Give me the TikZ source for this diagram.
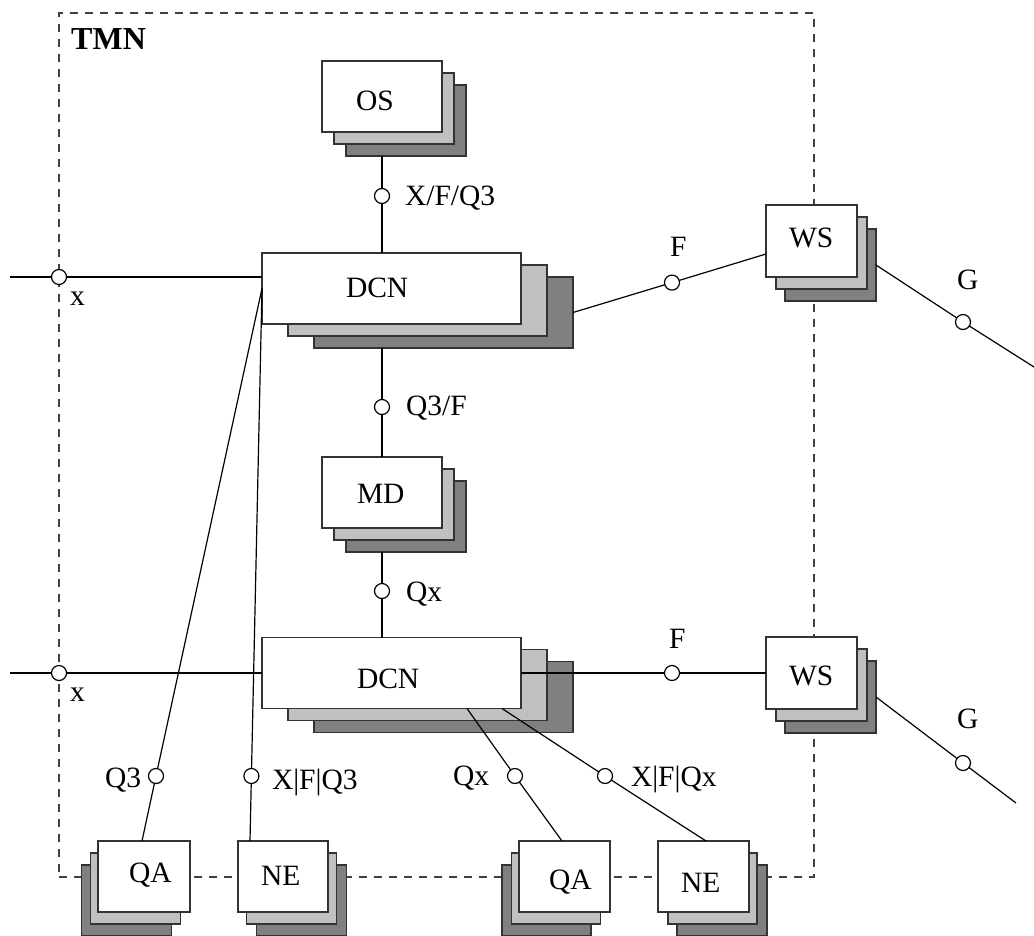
\documentclass[tikz,border=0pt]{standalone}
\usepackage{fontspec}
\setmainfont{Liberation Serif}
\usetikzlibrary{calc}
\definecolor{lightgr}{HTML}{C0C0C0}
\definecolor{darkgr}{HTML}{808080}
\begin{document}
\begin{tikzpicture}[x=1pt,y=-1pt,
  stk/.style={draw=black!80, line width=1.2pt, inner sep=0pt, outer sep=0pt, fill=white},
  sh1/.style={stk, fill=lightgr},
  sh2/.style={stk, fill=darkgr},
  wire/.style={draw=black, line width=1.2pt},
  port/.style={circle, draw=black, line width=1.2pt, fill=white, minimum size=15pt, inner sep=0pt, outer sep=0pt},
  lbl/.style={font=\fontsize{29.5}{31}\selectfont, inner sep=0pt, outer sep=0pt, anchor=base west},
  tmnline/.style={draw=black!75, line width=1.2pt, dash pattern=on 8pt off 7pt}]
\useasboundingbox (0,0) rectangle (1034,935);

% TMN boundary
\node[tmnline, minimum width=755pt, minimum height=864pt, inner sep=0pt, outer sep=0pt] (tmn) at (436.5,445) {};
\node[font=\fontsize{32}{34}\selectfont\bfseries, inner sep=0pt, anchor=base west] (tmnlbl) at (71,49) {TMN};

% OS
\node[sh2, minimum width=120pt, minimum height=71pt] (os3) at (406,120.5) {};
\node[sh1, minimum width=120pt, minimum height=71pt] (os2) at (394,108.5) {};
\node[stk, minimum width=120pt, minimum height=71pt] (os) at (382,96.5) {};
\node[lbl] (ost) at (356,110) {OS};

% DCN upper
\node[sh2, minimum width=259pt, minimum height=71pt] (dcn13) at (443.5,312.5) {};
\node[sh1, minimum width=259pt, minimum height=71pt] (dcn12) at (417.5,300.5) {};
\node[stk, minimum width=259pt, minimum height=71pt] (dcn1) at (391.5,288.5) {};
\node[lbl] (dcn1t) at (346,297) {DCN};

% MD
\node[sh2, minimum width=120pt, minimum height=71pt] (md3) at (406,516.5) {};
\node[sh1, minimum width=120pt, minimum height=71pt] (md2) at (394,504.5) {};
\node[stk, minimum width=120pt, minimum height=71pt] (md) at (382,492.5) {};
\node[lbl] (mdt) at (357,503) {MD};

% DCN lower
\node[sh2, minimum width=259pt, minimum height=71pt] (dcn23) at (443.5,697) {};
\node[sh1, minimum width=259pt, minimum height=71pt] (dcn22) at (417.5,685) {};
\node[stk, minimum width=259pt, minimum height=71pt] (dcn2) at (391.5,673) {};
\node[lbl] (dcn2t) at (357,688) {DCN};

% WS upper
\node[sh2, minimum width=91pt, minimum height=72pt] (ws13) at (830.5,265) {};
\node[sh1, minimum width=91pt, minimum height=72pt] (ws12) at (821.5,253) {};
\node[stk, minimum width=91pt, minimum height=72pt] (ws1) at (811.5,241) {};
\node[lbl] (ws1t) at (789,247) {WS};

% WS lower
\node[sh2, minimum width=91pt, minimum height=72pt] (ws23) at (830.5,697) {};
\node[sh1, minimum width=91pt, minimum height=72pt] (ws22) at (821.5,685) {};
\node[stk, minimum width=91pt, minimum height=72pt] (ws2) at (811.5,673) {};
\node[lbl] (ws2t) at (789,685) {WS};

% QA left
\node[sh2, minimum width=90pt, minimum height=71pt] (qa13) at (126.5,900.5) {};
\node[sh1, minimum width=90pt, minimum height=71pt] (qa12) at (135.5,888.5) {};
\node[stk, minimum width=92pt, minimum height=71pt] (qa1) at (144,876.5) {};
\node[lbl] (qa1t) at (129,882) {QA};

% NE left
\node[sh2, minimum width=90pt, minimum height=71pt] (ne13) at (301.5,900.5) {};
\node[sh1, minimum width=90pt, minimum height=71pt] (ne12) at (291.5,888.5) {};
\node[stk, minimum width=90pt, minimum height=71pt] (ne1) at (283,876.5) {};
\node[lbl] (ne1t) at (261,885) {NE};

% QA right
\node[sh2, minimum width=89pt, minimum height=71pt] (qa23) at (546.5,900.5) {};
\node[sh1, minimum width=89pt, minimum height=71pt] (qa22) at (556,888.5) {};
\node[stk, minimum width=91pt, minimum height=71pt] (qa2) at (564.5,876.5) {};
\node[lbl] (qa2t) at (549,889) {QA};

% NE right
\node[sh2, minimum width=90pt, minimum height=71pt] (ne23) at (722,900.5) {};
\node[sh1, minimum width=89pt, minimum height=71pt] (ne22) at (712.5,888.5) {};
\node[stk, minimum width=91pt, minimum height=71pt] (ne2) at (703.5,876.5) {};
\node[lbl] (ne2t) at (681,892) {NE};

% ports
\node[port] (pos) at (382,196) {};
\node[port] (pmd1) at (382,407) {};
\node[port] (pmd2) at (382,591) {};
\node[port] (px1) at (59,277) {};
\node[port] (px2) at (59,673) {};
\node[port] (pf1) at (672,282.6) {};
\node[port] (pf2) at (672,673) {};
\node[port] (pg1) at (963,322) {};
\node[port] (pg2) at (963,763) {};
\node[port] (pq3) at (156,776) {};
\node[port] (pxf3) at (251.4,776) {};
\node[port] (pqx) at (515,776) {};
\node[port] (pxfx) at (605,776) {};

% free ends
\coordinate (l1) at (10,277);
\coordinate (l2) at (10,673);
\coordinate (g1) at (1034,367);
\coordinate (g2) at (1016,803);

% connectors
\draw[wire] (os.south |- os3.south) -- (pos) -- (dcn1.north -| os);
\draw[wire] (md |- dcn13.south) -- (pmd1) -- (md.north);
\draw[wire] (md |- md3.south) -- (pmd2) -- (md |- dcn2.north);
\draw[wire] (l1) -- (px1) -- (l1 -| dcn1.west);
\draw[wire] (l2) -- (px2) -- (dcn2.west);
\draw[wire] (dcn13.east) -- (pf1) -- ([yshift=-13pt]ws1.west);
\draw[wire] (dcn2.east) -- (pf2) -- (ws2.west);
\draw[wire] (ws13.east) -- (pg1) -- (g1);
\draw[wire] (ws23.east) -- (pg2) -- (g2);
\draw[wire] (dcn1.west) -- (pq3) -- ([xshift=-2pt]qa1.north);
\draw[wire] (dcn1.west) -- (pxf3) -- ([xshift=-33pt]ne1.north);
\draw[wire] ([xshift=75.5pt]dcn2.south) -- (pqx) -- ([xshift=-2.5pt]qa2.north);
\draw[wire] ([xshift=110.5pt]dcn2.south) -- (pxfx) -- ([xshift=2.5pt]ne2.north);

% labels
\node[lbl] (lxfq3) at (405,205) {X/F/Q3};
\node[lbl] (lq3f) at (406,415.5) {Q3/F};
\node[lbl] (lqx1) at (406,601.5) {Qx};
\node[lbl] (lx1) at (70,305) {x};
\node[lbl] (lx2) at (70,701) {x};
\node[lbl] (lf1) at (670,256) {F};
\node[lbl] (lf2) at (669,648) {F};
\node[lbl] (lg1) at (957,289) {G};
\node[lbl] (lg2) at (957,728) {G};
\node[lbl] (lq3) at (105,787) {Q3};
\node[lbl] (lxf3) at (272,789) {X|F|Q3};
\node[lbl] (lqx2) at (453,785) {Qx};
\node[lbl] (lxfx) at (631,786) {X|F|Qx};
\end{tikzpicture}
\end{document}
